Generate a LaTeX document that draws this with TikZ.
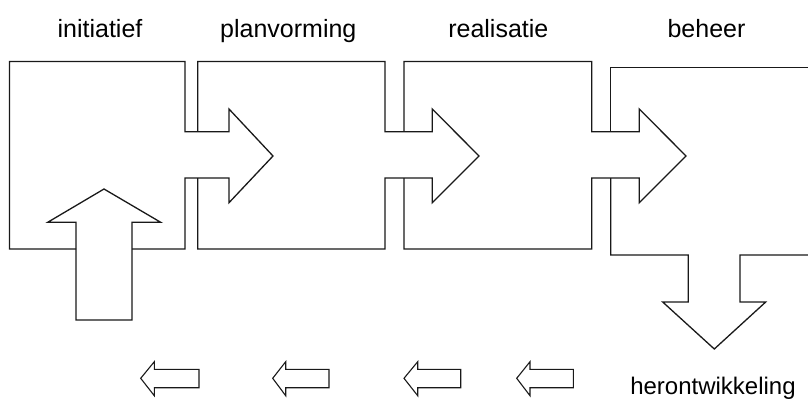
\documentclass[tikz,border=0pt]{standalone}
\usepackage{fontspec}
\setmainfont{Liberation Sans}
\begin{document}
\begin{tikzpicture}[x=1pt,y=-1pt,
  outline/.style={draw=black!90,line width=1.3pt,line join=miter},
  smallarrow/.style={draw=black!90,line width=1.1pt,line join=miter},
  phase/.style={font=\fontsize{25}{28}\selectfont,anchor=base,inner sep=0pt},
  exitlabel/.style={font=\fontsize{24}{27}\selectfont,anchor=base,inner sep=0pt}]
\useasboundingbox (0,0) rectangle (808,399);

% phase names
\node[phase] (tInit) at (100,37.5) {initiatief};
\node[phase] (tPlan) at (288.3,37.5) {planvorming};
\node[phase] (tReal) at (498.3,37.5) {realisatie};
\node[phase] (tBeh)  at (706.5,37.5) {beheer};
\node[exitlabel] (tHer) at (713,394.3) {herontwikkeling};

% block 1 with its outgoing arrow
\draw[outline] (76,249) -- (9.5,249) -- (9.5,61.5) -- (185,61.5) -- (185,131.7)
  -- (229,131.7) -- (229,109) -- (273,156) -- (229,202.7) -- (229,178)
  -- (185,178) -- (185,249) -- (132,249);
% incoming arrow from below
\draw[outline] (76,320) -- (76,222.3) -- (47.7,222.3) -- (104,189)
  -- (160.7,222.3) -- (132,222.3) -- (132,320) -- cycle;

% block 2
\draw[outline] (197.7,131.7) -- (197.7,61.5) -- (385,61.5) -- (385,131.7)
  -- (432.3,131.7) -- (432.3,109) -- (479,156) -- (432.3,202.7) -- (432.3,178)
  -- (385,178) -- (385,249) -- (197.7,249) -- (197.7,178);

% block 3
\draw[outline] (404,131.7) -- (404,61.5) -- (591.7,61.5) -- (591.7,131.7)
  -- (639.3,131.7) -- (639.3,109) -- (686,156) -- (639.3,202.7) -- (639.3,178)
  -- (591.7,178) -- (591.7,249) -- (404,249) -- (404,178);

% block 4 with the downward exit arrow
\draw[outline] (610.7,131.7) -- (610.7,67.3) -- (812,67.3);
\draw[outline] (812,255) -- (740,255) -- (740,302) -- (765.7,302) -- (714.3,349)
  -- (662.7,302) -- (688.3,302) -- (688.3,255) -- (610.7,255) -- (610.7,178);

% small return arrows
\foreach \t/\h/\r in {140.7/154.3/199, 272.7/285.7/329, 404/417.7/460.7, 516.7/530/573.3}{
  \draw[smallarrow] (\t,378.3) -- (\h,361.7) -- (\h,369.3) -- (\r,369.3)
    -- (\r,387.7) -- (\h,387.7) -- (\h,395.7) -- cycle;
}
\end{tikzpicture}
\end{document}
